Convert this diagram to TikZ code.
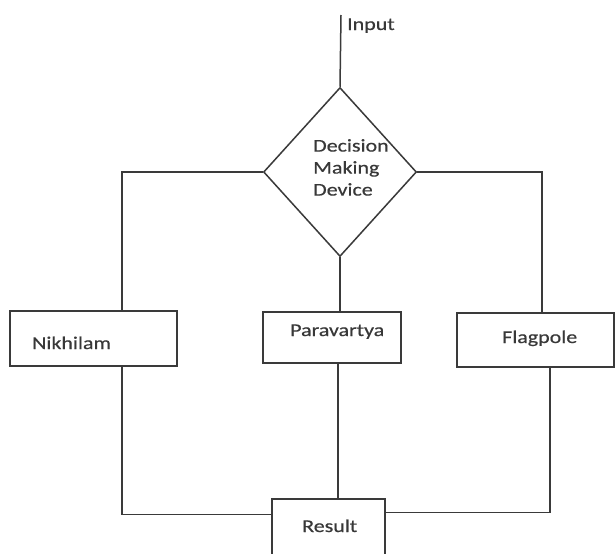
\documentclass[tikz,border=0pt]{standalone}
\usepackage{fontspec}
\setmainfont{Carlito}[FakeStretch=1.22,FakeBold=0.4]
\usetikzlibrary{shapes.geometric}
\definecolor{linec}{HTML}{3A3A3A}
\definecolor{textc}{HTML}{383838}
\tikzset{
  conn/.style={draw=linec, line width=1.5pt},
  boxnode/.style={draw=linec, line width=1.5pt, rectangle, inner sep=0pt, fill=white},
  decnode/.style={draw=linec, line width=1.5pt, diamond, inner sep=0pt, minimum width=153pt, minimum height=169pt},
  lbl/.style={inner sep=0pt, anchor=base west, text=textc, font=\fontsize{18}{22}\selectfont},
}
\begin{document}
\begin{tikzpicture}[x=1pt,y=-1pt]
\clip (0,0) rectangle (616,554);
\fill[white] (0,0) rectangle (616,554);
% nodes
\node[decnode] (dec) at (340,172) {};
\node[boxnode, minimum width=167pt, minimum height=55pt] (nik) at (93.5,338.5) {};
\node[boxnode, minimum width=138pt, minimum height=51pt] (par) at (332,337.5) {};
\node[boxnode, minimum width=157pt, minimum height=54pt] (flag) at (535.5,340) {};
\node[boxnode, minimum width=113pt, minimum height=90pt] (res) at (328.5,544) {};
\coordinate (inTop) at (341,15);
% texts
\node[lbl] (intext) at (347,30) {Input};
\node[lbl, align=left, anchor=north west, font=\fontsize{18}{22}\selectfont] (dectext) at (313,139) {Decision\\Making\\Device};
\node[lbl] (niktext) at (32,349) {Nikhilam};
\node[lbl] (partext) at (290,336) {Paravartya};
\node[lbl] (flagtext) at (502,343) {Flagpole};
\node[lbl] (restext) at (302,532) {Result};
% connectors
\draw[conn] (inTop) -- (dec.north);
\draw[conn] (dec.west) -| ([xshift=28.5pt]nik.north);
\draw[conn] (dec.east) -| ([xshift=6.5pt]flag.north);
\draw[conn] (dec.south) -- (dec.south |- par.north);
\draw[conn] ([xshift=28.5pt]nik.south) |- ([yshift=-16pt]res.north west);
\draw[conn] ([xshift=14.5pt]flag.south) |- ([yshift=-14pt]res.north east);
\draw[conn] ([xshift=6pt]par.south) -- ([xshift=6pt]par.south |- res.north);
\end{tikzpicture}
\end{document}
